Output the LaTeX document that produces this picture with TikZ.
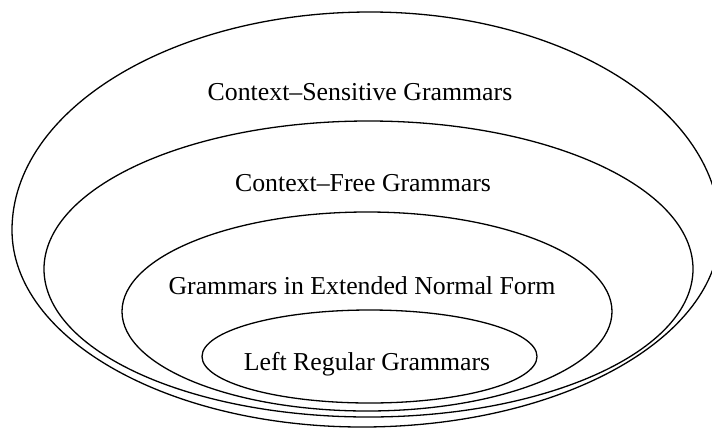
\documentclass[tikz,border=0pt]{standalone}
\usepackage{fontspec}
\setmainfont{Liberation Serif}
\usetikzlibrary{shapes.geometric}

\tikzset{
  outline/.style={draw=black, line width=1.3pt},
  region/.style={outline, ellipse, inner sep=0pt, outer sep=0pt},
  label text/.style={anchor=base, inner sep=0pt, font=\fontsize{25.8}{30}\selectfont}
}

\begin{document}
\begin{tikzpicture}[x=1pt, y=-1pt]
  \useasboundingbox (0,0) rectangle (712,429);

  % outermost class: an egg-like oval, fuller below its widest line,
  % built from four quarter arcs (top -> left -> bottom -> right -> top)
  \coordinate (cstop) at (370,12);
  \draw[outline] (cstop)
    arc[start angle=90,  end angle=180, x radius=358pt, y radius=218pt]
    arc[start angle=180, end angle=270, x radius=350pt, y radius=197pt]
    arc[start angle=270, end angle=360, x radius=358pt, y radius=197pt]
    arc[start angle=0,   end angle=90,  x radius=350pt, y radius=218pt]
    -- cycle;

  % nested grammar classes inside it
  \node[region, minimum width=649pt, minimum height=296pt] (cf)  at (368.5,269) {};
  \node[region, minimum width=490pt, minimum height=199pt] (enf) at (367,311.5) {};
  \node[region, minimum width=335pt, minimum height=93pt]  (lr)  at (369.5,356.5) {};

  % class names
  \node[label text] (cstext)  at (360,100) {Context–Sensitive Grammars};
  \node[label text] (cftext)  at (363,191) {Context–Free Grammars};
  \node[label text] (enftext) at (362,294) {Grammars in Extended Normal Form};
  \node[label text] (lrtext)  at (367,370) {Left Regular Grammars};
\end{tikzpicture}
\end{document}
